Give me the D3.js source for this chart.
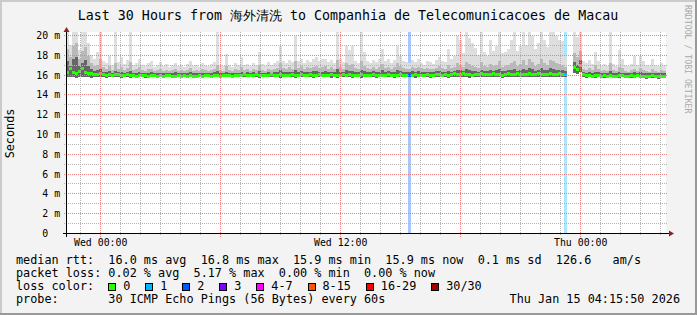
<!DOCTYPE html>
<html>
<head>
<meta charset="utf-8">
<script src="https://cdn.jsdelivr.net/npm/d3@7"></script>
<style>
body { margin: 0; background: #f3f3f3; }
svg { display: block; }
text { font-family: "DejaVu Sans Mono", monospace; white-space: pre; }
</style>
</head>
<body>
<div id="chart"></div>
<script>
// loss buckets shown in the legend
var lossLabels = ["0", "1", "2", "3", "4-7", "8-15", "16-29", "30/30"];
var lossColors = ["#26ff00", "#00b8ff", "#0059ff", "#7e00ff", "#ff00ff", "#ff5500", "#ff0000", "#a10000"];

// one sample every 9 minutes, 200 samples = 30 hours (values in ms)
var median = [
  16.3,16.7,16.3,16.2,16.4,16.7,16.3,16.2,16.2,16.1,16.1,16.2,16.1,16.0,16.1,16.0,16.1,16.1,16.0,16.0,
  16.1,16.0,16.0,15.9,16.0,16.0,16.0,15.9,16.0,16.0,15.9,16.0,15.9,16.0,16.0,15.9,15.9,16.0,15.9,16.0,
  15.9,16.0,15.9,15.9,16.0,15.9,16.0,16.0,15.9,16.0,16.0,15.9,16.0,16.0,16.0,15.9,16.0,16.0,16.0,16.1,
  16.0,16.0,16.0,16.1,16.0,16.0,16.0,16.0,16.1,16.0,16.0,16.1,16.0,16.0,16.0,16.1,16.0,16.0,16.1,16.0,
  16.0,16.1,16.0,16.0,16.1,16.0,16.0,16.0,16.1,16.0,16.0,16.0,16.1,16.0,16.1,16.0,16.0,16.0,16.1,16.0,
  16.0,16.0,16.1,16.0,16.0,16.0,16.0,16.1,16.0,16.0,16.0,16.1,16.0,16.0,16.0,16.0,16.1,16.0,16.0,16.0,
  16.1,16.0,16.0,16.1,16.1,16.0,16.1,16.0,16.1,16.2,16.1,16.1,16.2,16.1,16.1,16.0,16.1,16.1,16.2,16.1,
  16.1,16.1,16.2,16.1,16.1,16.0,16.1,16.2,16.1,16.1,16.2,16.1,16.1,16.1,16.2,16.1,16.1,16.2,16.1,16.1,
  16.1,16.2,16.1,16.1,16.2,16.1,16.1,null,null,16.8,16.6,17.0,16.1,16.0,16.0,15.9,16.0,16.0,15.9,16.0,
  15.9,16.0,15.9,15.9,16.0,16.0,15.9,15.9,16.0,15.9,16.0,15.9,15.9,15.9,15.9,16.0,15.9,15.9,15.9,15.9
];
var pingMin = [
  15.8,15.8,15.8,15.7,15.8,15.8,15.8,15.8,15.7,15.8,15.8,15.8,15.8,15.7,15.8,15.8,15.8,15.8,15.7,15.8,
  15.8,15.7,15.8,15.7,15.8,15.8,15.7,15.7,15.8,15.8,15.7,15.8,15.7,15.8,15.8,15.7,15.7,15.8,15.7,15.8,
  15.7,15.8,15.7,15.7,15.8,15.7,15.8,15.8,15.7,15.8,15.8,15.7,15.8,15.8,15.8,15.7,15.8,15.8,15.8,15.8,
  15.8,15.8,15.8,15.8,15.7,15.8,15.8,15.8,15.8,15.8,15.8,15.7,15.8,15.8,15.8,15.8,15.7,15.8,15.8,15.8,
  15.8,15.8,15.7,15.8,15.8,15.8,15.8,15.8,15.7,15.8,15.7,15.8,15.8,15.8,15.8,15.7,15.8,15.8,15.7,15.8,
  15.8,15.8,15.8,15.7,15.8,15.8,15.8,15.8,15.8,15.7,15.8,15.8,15.8,15.8,15.8,15.8,15.7,15.8,15.8,15.8,
  15.8,15.7,15.8,15.8,15.8,15.8,15.8,15.7,15.8,15.8,15.8,15.8,15.8,15.8,15.7,15.8,15.8,15.8,15.8,15.8,
  15.8,15.8,15.8,15.8,15.8,15.7,15.8,15.8,15.8,15.8,15.8,15.8,15.8,15.8,15.8,15.8,15.8,15.8,15.8,15.8,
  15.8,15.8,15.8,15.8,15.8,15.8,15.8,null,null,16.2,16.1,16.3,15.8,15.7,15.8,15.7,15.7,15.8,15.7,15.7,
  15.7,15.8,15.7,15.7,15.7,15.8,15.7,15.7,15.7,15.7,15.8,15.7,15.7,15.6,15.7,15.7,15.7,15.6,15.7,15.7
];
// inner (dark) smoke top
var smokeInner = [
  17.4,16.9,17.6,17.8,16.9,17.2,17.5,16.9,16.6,16.4,16.5,16.6,16.3,16.3,16.4,16.2,16.4,16.3,16.3,16.2,
  16.3,16.4,16.2,16.2,16.3,16.2,16.2,16.2,16.3,16.2,16.2,16.2,16.2,16.2,16.2,16.2,16.3,16.2,16.2,16.2,
  16.2,16.3,16.2,16.2,16.2,16.2,16.2,16.2,16.2,16.3,16.4,16.2,16.2,16.3,16.2,16.2,16.2,16.2,16.3,16.2,
  16.3,16.2,16.3,16.2,16.4,16.2,16.2,16.3,16.2,16.3,16.3,16.5,16.3,16.3,16.3,16.3,16.5,16.3,16.4,16.3,
  16.3,16.3,16.4,16.4,16.3,16.3,16.4,16.3,16.3,16.3,16.6,16.3,16.3,16.5,16.4,16.4,16.3,16.3,16.5,16.4,
  16.3,16.3,16.4,16.3,16.3,16.5,16.3,16.4,16.3,16.3,16.5,16.4,16.3,16.3,16.3,16.4,16.3,16.4,16.3,16.3,
  16.3,16.3,16.3,16.4,16.4,16.3,16.3,16.4,16.3,16.4,16.5,16.5,16.4,16.6,16.5,16.4,16.4,16.3,16.5,16.4,
  16.4,16.5,16.4,16.5,16.6,16.4,16.4,16.5,16.5,16.6,16.4,16.5,16.6,16.5,16.7,16.6,16.4,16.5,16.7,16.5,
  16.5,16.7,16.6,16.5,16.5,16.5,16.4,null,null,17.3,17.0,17.5,16.3,16.2,16.3,16.2,16.3,16.3,16.2,16.2,
  16.2,16.4,16.2,16.2,16.3,16.2,16.2,16.2,16.2,16.3,16.2,16.3,16.2,16.2,16.2,16.2,16.2,16.2,16.2,16.2
];
// middle smoke top
var smokeMid = [
  18.6,17.8,18.9,19.2,17.6,18.4,18.8,17.9,17.2,16.9,17.0,17.6,16.8,16.6,16.9,16.5,17.2,16.6,16.8,16.5,
  16.7,17.3,16.5,16.6,16.8,16.5,16.4,16.6,16.6,16.4,16.5,16.6,16.4,16.5,16.4,16.5,16.6,16.4,16.5,16.4,
  16.5,16.7,16.4,16.5,16.4,16.6,16.5,16.4,16.5,16.6,17.0,16.5,16.4,16.9,16.5,16.4,16.6,16.5,16.8,16.5,
  16.6,16.4,16.6,16.5,17.0,16.5,16.4,16.6,16.5,16.6,16.7,17.2,16.7,16.6,16.8,16.6,17.4,16.7,16.9,16.6,
  16.8,16.7,16.8,16.9,16.7,16.8,16.9,16.6,16.8,16.6,17.5,16.8,16.6,17.2,17.0,17.1,16.7,16.6,17.4,16.9,
  16.7,16.6,16.8,16.6,16.8,17.1,16.7,16.8,16.6,16.8,17.2,16.9,16.7,16.6,16.6,16.8,16.7,16.8,16.7,16.6,
  16.7,16.6,16.6,16.7,16.9,16.7,16.6,17.0,16.7,16.8,17.2,17.0,16.8,17.3,17.1,16.9,16.8,16.7,17.3,16.9,
  16.8,17.1,16.9,17.0,17.4,16.8,16.9,17.0,17.2,17.4,16.9,17.1,17.5,17.0,17.6,17.3,16.9,17.1,17.6,17.2,
  17.0,17.5,17.4,17.2,17.1,17.0,16.8,null,null,18.2,17.8,18.4,16.6,16.5,16.7,16.5,17.0,16.6,16.4,16.5,
  16.4,17.2,16.5,16.4,16.8,16.7,16.4,16.3,16.5,16.6,16.4,16.7,16.5,16.4,16.3,16.6,16.4,16.3,16.5,16.4
];
// outer (light) smoke top = max ping
var pingMax = [
  20.4,19.0,20.4,20.4,18.5,20.4,20.4,19.2,18.0,17.6,18.3,20.4,17.4,17.2,17.9,17.0,20.4,17.3,17.8,17.1,
  17.5,20.4,17.0,17.2,17.6,17.0,16.9,17.2,17.4,16.8,17.0,17.3,16.9,17.1,16.8,17.0,17.2,16.9,17.0,16.8,
  17.1,17.4,16.9,17.0,16.8,17.2,17.0,16.9,17.1,17.3,20.4,17.0,16.9,18.1,17.0,16.8,17.2,17.0,17.8,17.0,
  17.1,16.9,17.2,17.0,18.3,17.1,16.9,17.3,17.0,17.2,17.4,18.9,17.4,17.2,17.5,17.3,19.9,17.4,17.6,17.2,
  17.5,17.3,17.6,17.8,17.4,17.6,17.6,17.3,17.5,17.2,20.4,17.6,17.3,18.9,18.5,18.9,17.4,17.2,20.4,18.3,
  17.4,17.2,17.5,17.3,17.6,18.6,17.4,17.6,17.2,17.5,18.9,17.9,17.4,17.3,17.2,17.5,17.3,17.6,17.2,17.0,
  17.4,17.3,17.1,17.5,17.8,17.4,17.3,18.6,17.6,17.9,19.9,19.5,18.2,20.4,19.7,19.2,18.7,18.0,20.4,18.3,
  17.9,19.5,18.4,18.9,20.4,18.2,18.3,18.6,19.5,20.4,18.4,18.9,20.4,19.0,20.4,19.9,18.6,19.2,20.4,19.5,
  18.8,20.4,20.4,19.9,19.5,19.4,18.0,null,null,20.4,19.8,20.4,17.4,17.2,17.5,17.1,18.3,17.4,16.9,17.1,
  16.9,20.4,17.1,16.9,18.5,17.6,17.0,16.9,17.1,17.9,17.0,17.9,17.4,17.0,16.9,17.6,17.0,16.9,17.2,17.0
];
// lost pings per sample (of 30)
var lostPings = [
  0,0,0,0,0,0,0,0,0,0,0,0,0,0,0,0,0,0,0,0,
  0,0,0,0,0,0,0,0,0,0,0,0,0,0,0,0,0,0,0,0,
  0,0,0,0,0,0,0,0,0,0,0,0,0,0,0,0,0,0,0,0,
  0,0,0,0,0,0,0,0,0,0,0,0,0,0,0,0,0,0,0,0,
  0,0,0,0,0,0,0,0,0,0,0,0,0,0,0,0,0,0,0,0,
  0,0,0,0,0,0,0,0,0,0,0,0,0,0,2,0,0,0,0,0,
  0,0,0,0,0,0,0,0,0,0,0,0,0,0,0,0,0,0,0,0,
  0,0,0,0,0,0,0,0,0,0,0,0,0,0,0,0,0,0,0,0,
  0,0,0,0,0,0,1,0,0,0,0,0,0,0,0,0,0,0,0,0,
  0,0,0,0,0,0,0,0,0,0,0,0,0,0,0,0,0,0,0,0
];
var yTicks = [0, 2, 4, 6, 8, 10, 12, 14, 16, 18, 20];

var statsLines = [
  "median rtt:  16.0 ms avg  16.8 ms max  15.9 ms min  15.9 ms now  0.1 ms sd  126.6   am/s",
  "packet loss: 0.02 % avg  5.17 % max  0.00 % min  0.00 % now"
];

var width = 697, height = 315;
var x0 = 66, x1 = 666, yTop = 32, yBot = 233.5;
var stepMs = 9 * 60 * 1000;
var tStart = Date.UTC(2026, 0, 13, 22, 15, 50);
var tEnd = tStart + 30 * 3600 * 1000;

var x = d3.scaleUtc().domain([tStart, tEnd]).range([x0, x1]);
var y = d3.scaleLinear().domain([0, 20.35]).range([yBot, yTop]);

function bucket(n) {
  if (n <= 3) return n;
  if (n <= 7) return 4;
  if (n <= 15) return 5;
  if (n <= 29) return 6;
  return 7;
}

var samples = median.map(function(m, i) {
  return { t: tStart + i * stepMs, med: m, lo: pingMin[i], inner: smokeInner[i],
           mid: smokeMid[i], hi: pingMax[i], loss: lostPings[i] };
});

var svg = d3.select("#chart").append("svg")
    .attr("width", width)
    .attr("height", height);

// dotted patterns for the grid (1px on, 1px off)
var defs = svg.append("defs");
[["minH", 2, 1, "#b4b4b4"], ["minV", 1, 2, "#b4b4b4"],
 ["majH", 2, 1, "#ec8080"], ["majV", 1, 2, "#ec8080"]].forEach(function(p) {
  defs.append("pattern")
      .attr("id", p[0])
      .attr("patternUnits", "userSpaceOnUse")
      .attr("width", p[1]).attr("height", p[2])
    .append("rect")
      .attr("width", 1).attr("height", 1)
      .attr("fill", p[3]);
});

// background and frame
svg.append("rect").attr("width", width).attr("height", height).attr("fill", "#f3f3f3");
svg.append("rect").attr("width", width).attr("height", 2).attr("fill", "#cbcbcb");
svg.append("rect").attr("width", 2).attr("height", height).attr("fill", "#cbcbcb");
svg.append("rect").attr("y", height - 2).attr("width", width).attr("height", 2).attr("fill", "#999");
svg.append("rect").attr("x", width - 2).attr("width", 2).attr("height", height).attr("fill", "#999");

// canvas
svg.append("rect")
    .attr("x", x0).attr("y", yTop)
    .attr("width", x1 - x0).attr("height", yBot - yTop)
    .attr("fill", "#fff");

svg.append("clipPath").attr("id", "clip")
  .append("rect")
    .attr("x", x0).attr("y", yTop)
    .attr("width", x1 - x0).attr("height", yBot - yTop);

var plot = svg.append("g")
    .attr("clip-path", "url(#clip)")
    .attr("shape-rendering", "crispEdges");

function sx(d) { return x(d.t); }
function sw(d) { return x(d.t + stepMs) - x(d.t); }

// loss background bars
plot.append("g").selectAll("rect")
    .data(samples.filter(function(d) { return d.loss > 0; }))
  .enter().append("rect")
    .attr("x", sx).attr("width", sw)
    .attr("y", yTop).attr("height", yBot - yTop)
    .attr("fill", function(d) { return lossColors[bucket(d.loss)]; })
    .attr("fill-opacity", 0.34);

// smoke
var bands = [
  { key: "hi", color: "#dedede" },
  { key: "mid", color: "#b9b9b9" },
  { key: "inner", color: "#666666" }
];
bands.forEach(function(b) {
  plot.append("g").selectAll("rect")
      .data(samples.filter(function(d) { return d[b.key] != null; }))
    .enter().append("rect")
      .attr("x", sx).attr("width", sw)
      .attr("y", function(d) { return y(d[b.key]); })
      .attr("height", function(d) { return y(d.lo) - y(d[b.key]); })
      .attr("fill", b.color);
});

// median, coloured by loss
plot.append("g").selectAll("rect")
    .data(samples.filter(function(d) { return d.med != null; }))
  .enter().append("rect")
    .attr("x", sx).attr("width", sw)
    .attr("y", function(d) { return y(d.med) - 1.5; })
    .attr("height", 3)
    .attr("fill", function(d) { return lossColors[bucket(d.loss)]; });

// grid (dotted, drawn over the data like rrdtool does)
var grid = svg.append("g").attr("shape-rendering", "crispEdges");
var hours = d3.utcHour.every(1).range(new Date(tStart), new Date(tEnd));
grid.selectAll("rect.v")
    .data(hours)
  .enter().append("rect")
    .attr("class", "v")
    .attr("x", function(d) { return Math.floor(x(d)); })
    .attr("y", yTop)
    .attr("width", 1)
    .attr("height", function(d) { return yBot - yTop + (d.getUTCHours() % 6 ? 2.5 : 3.5); })
    .attr("fill", function(d) { return d.getUTCHours() % 6 ? "url(#minV)" : "url(#majV)"; });

grid.selectAll("rect.h")
    .data(d3.range(1, 21))
  .enter().append("rect")
    .attr("class", "h")
    .attr("x", function(d) { return d % 2 ? x0 - 2 : x0 - 3; })
    .attr("y", function(d) { return Math.floor(y(d)); })
    .attr("width", function(d) { return x1 + 2 - (d % 2 ? x0 - 2 : x0 - 3); })
    .attr("height", 1)
    .attr("fill", function(d) { return d % 2 ? "url(#minH)" : "url(#majH)"; });

// axes
var axes = svg.append("g").attr("shape-rendering", "crispEdges");
axes.append("line").attr("x1", x0 - 3).attr("x2", x1 + 3)
    .attr("y1", yBot).attr("y2", yBot).attr("stroke", "#000");
axes.append("line").attr("x1", x0 + 0.5).attr("x2", x0 + 0.5)
    .attr("y1", yBot + 3).attr("y2", yTop - 1).attr("stroke", "#000");
svg.append("path")
    .attr("d", "M" + (x1 + 3) + "," + (yBot - 3) + "L" + (x1 + 8) + "," + yBot + "L" + (x1 + 3) + "," + (yBot + 3) + "Z")
    .attr("fill", "#8e2222");
svg.append("path")
    .attr("d", "M" + (x0 - 2.5) + "," + yTop + "L" + (x0 + 0.5) + "," + (yTop - 5) + "L" + (x0 + 3.5) + "," + yTop + "Z")
    .attr("fill", "#8e2222");

// tick labels
var fmt = d3.utcFormat("%a %H:%M");
svg.append("g").selectAll("text")
    .data(d3.utcHour.every(12).range(new Date(tStart), new Date(tEnd)))
  .enter().append("text")
    .attr("x", function(d) { return x(d); })
    .attr("y", 246)
    .attr("text-anchor", "middle")
    .attr("font-size", "9.9px")
    .text(fmt);

var yl = svg.append("g").attr("font-size", "9.9px");
yl.selectAll("text.num")
    .data(yTicks)
  .enter().append("text")
    .attr("class", "num")
    .attr("x", 48.2)
    .attr("y", function(d) { return y(d) + 3.5; })
    .attr("text-anchor", "end")
    .text(function(d) { return d; });
yl.selectAll("text.unit")
    .data(yTicks.filter(function(d) { return d > 0; }))
  .enter().append("text")
    .attr("class", "unit")
    .attr("x", 54.2)
    .attr("y", function(d) { return y(d) + 3.5; })
    .text("m");

svg.append("text")
    .attr("transform", "translate(14,133.5) rotate(-90)")
    .attr("text-anchor", "middle")
    .attr("font-size", "11.8px")
    .text("Seconds");

// title and watermark
svg.append("text")
    .attr("x", 348).attr("y", 19.5)
    .attr("text-anchor", "middle")
    .attr("font-size", "13.3px")
    .text("Last 30 Hours from 海外清洗 to Companhia de Telecomunicacoes de Macau");

svg.append("text")
    .attr("transform", "translate(685,5) rotate(90)")
    .attr("font-size", "8.2px")
    .attr("fill", "#aaa")
    .text("RRDTOOL / TOBI OETIKER");

// legend
var lg = svg.append("g").attr("font-size", "11.8px");
lg.selectAll("text.stat")
    .data(statsLines)
  .enter().append("text")
    .attr("class", "stat")
    .attr("xml:space", "preserve")
    .attr("x", 16)
    .attr("y", function(d, i) { return 263.5 + i * 13.3; })
    .text(function(d) { return d; });

lg.append("text").attr("x", 16).attr("y", 290.1).text("loss color:");
var bx = 108.3, boxes = [];
lossLabels.forEach(function(l, i) {
  boxes.push({ x: bx, label: l, color: lossColors[i] });
  bx += 15 + l.length * 7.1 + 14.9;
});
var swatch = lg.selectAll("g.sw").data(boxes).enter().append("g").attr("class", "sw");
swatch.append("rect")
    .attr("x", function(d) { return Math.round(d.x) + 0.5; })
    .attr("y", 283.5)
    .attr("width", 7).attr("height", 7)
    .attr("fill", function(d) { return d.color; })
    .attr("stroke", "#000")
    .attr("shape-rendering", "crispEdges");
swatch.append("text")
    .attr("x", function(d) { return d.x + 15; })
    .attr("y", 290.1)
    .text(function(d) { return d.label; });

lg.append("text").attr("xml:space", "preserve").attr("x", 16).attr("y", 303.4)
    .text("probe:       30 ICMP Echo Pings (56 Bytes) every 60s");
lg.append("text").attr("x", 680).attr("y", 303.4).attr("text-anchor", "end")
    .text("Thu Jan 15 04:15:50 2026");
</script>
</body>
</html>
